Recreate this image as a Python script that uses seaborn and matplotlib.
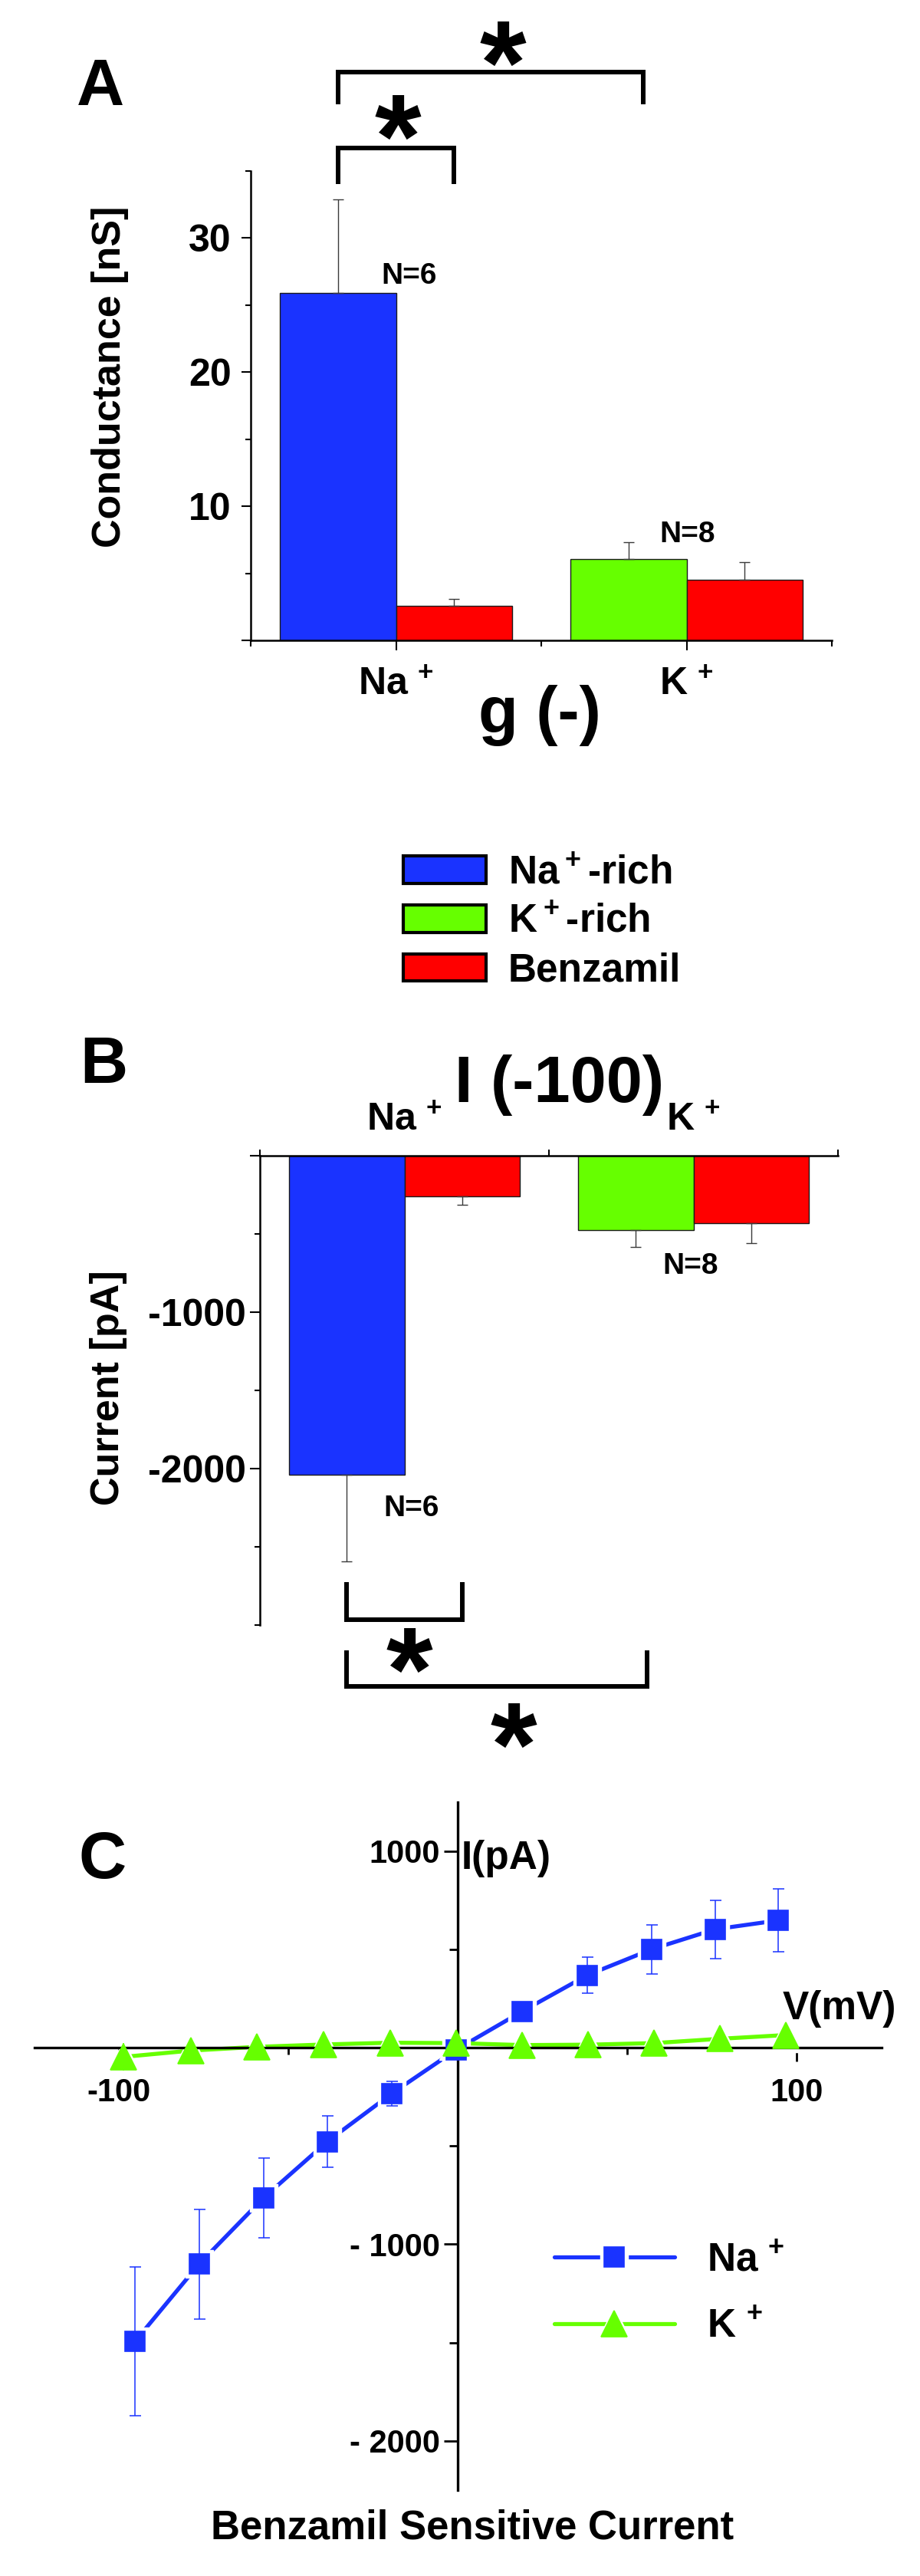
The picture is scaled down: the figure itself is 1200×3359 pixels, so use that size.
import numpy as np
import pandas as pd
import seaborn as sns
import matplotlib.pyplot as plt
from matplotlib.patches import Patch
from matplotlib.textpath import TextPath
from matplotlib.font_manager import FontProperties

# values
IONS = [r"Na$^{\,+}$", r"K$^{\,+}$"]
TREATMENTS = ["rich", "Benzamil"]
LEGEND_LABELS = ["Na$^+$-rich", "K$^+$-rich", "Benzamil"]
N_LABELS = ["N=6", "N=8"]

# A: conductance g(-) [nS]
G_RICH = [25.9, 6.06]
G_RICH_SEM = [7.0, 1.28]
G_BENZ = [2.57, 4.53]
G_BENZ_SEM = [0.52, 1.28]

# B: current at -100 mV [pA]
I_RICH = [-2039, -475]
I_RICH_SEM = [554, 106]
I_BENZ = [-261, -430]
I_BENZ_SEM = [55, 127]

# C: benzamil sensitive I-V curves
V_NA = [-95.2, -76.3, -57.3, -38.5, -19.5, -0.4, 19.1, 38.2, 57.2, 76.0, 94.6]
I_NA = [-1493, -1100, -764, -478, -234, -10, 185, 368, 500, 602, 647]
I_NA_SEM = [378, 279, 203, 130, 62, 30, 40, 92, 126, 148, 160]
V_K = [-98.6, -78.7, -59.2, -39.5, -19.9, -0.4, 19.1, 38.5, 58.0, 77.4, 96.8]
I_K = [-47, -15, 4, 16, 25, 23, 13, 15, 23, 45, 64]
I_K_SEM = [70, 60, 50, 50, 45, 40, 40, 45, 50, 55, 60]

BLUE = "#1a33ff"
GREEN = "#66ff00"
RED = "#ff0000"
RICH_COLORS = [BLUE, GREEN]

plt.rcParams.update({
    "font.family": ["Liberation Sans", "DejaVu Sans"],
    "font.weight": "bold",
    "axes.labelweight": "bold",
    "axes.titleweight": "bold",
    "mathtext.default": "regular",
    "axes.linewidth": 1.8,
})

W, H = 1200, 3359
fig = plt.figure(figsize=(W / 100, H / 100), dpi=100)

# size the asterisk from its glyph box so that the ink is ~58 px tall
_star = TextPath((0, 0), "*", size=1,
                 prop=FontProperties(family="Liberation Sans", weight="bold"))
_bb = _star.get_extents()
STAR_PT = 58 / _bb.height * 0.72
STAR_DY = -(_bb.y0 + _bb.y1) / 2 * STAR_PT


def px_box(left, top, right, bottom):
    return [left / W, 1 - bottom / H, (right - left) / W, (bottom - top) / H]


def draw_bars(ax, rich, rich_sem, benz, benz_sem, down):
    df = pd.DataFrame({
        "ion": IONS + IONS,
        "treatment": np.repeat(TREATMENTS, len(IONS)),
        "value": rich + benz,
    })
    sns.barplot(data=df, x="ion", y="value", hue="treatment", order=IONS,
                hue_order=TREATMENTS, palette=[BLUE, RED], saturation=1,
                width=0.8, errorbar=None, edgecolor="#1a1a1a", linewidth=1.0,
                legend=False, ax=ax)
    for bar, color in zip(ax.containers[0], RICH_COLORS):
        bar.set_facecolor(color)
    for cont, sem in zip(ax.containers, [rich_sem, benz_sem]):
        xs = [b.get_x() + b.get_width() / 2 for b in cont]
        ys = [b.get_y() + b.get_height() for b in cont]
        zero = np.zeros(len(sem))
        yerr = [sem, zero] if down else [zero, sem]
        ax.errorbar(xs, ys, yerr=yerr, fmt="none", ecolor="#3a3a3a",
                    elinewidth=1.0, capsize=4.7, capthick=1.0)
    ax.set_xlabel("")
    ax.set_ylabel("")


def bracket(ax, x0, x1, y_bar, y_tip):
    ax.plot([x0, x0, x1, x1], [y_tip, y_bar, y_bar, y_tip], color="black",
            lw=4.3, clip_on=False, solid_joinstyle="miter",
            solid_capstyle="butt")


def star(ax, x, y):
    ax.annotate("*", xy=(x, y), xytext=(0, STAR_DY),
                textcoords="offset points", ha="center", va="baseline",
                fontsize=STAR_PT, annotation_clip=False)


# ---------------- A ----------------
ax_a = fig.add_axes(px_box(327, 223, 1085, 835))
draw_bars(ax_a, G_RICH, G_RICH_SEM, G_BENZ, G_BENZ_SEM, down=False)
ax_a.set_xlim(-0.5, 1.5)
ax_a.set_ylim(0, 35)
ax_a.set_yticks([0, 10, 20, 30], ["", "10", "20", "30"])
ax_a.set_yticks([5, 15, 25, 35], minor=True)
ax_a.set_xticks([0, 1], IONS)
ax_a.set_xticks([-0.5, 0.5, 1.5], minor=True)
ax_a.tick_params(axis="both", which="both", width=1.5, labelsize=36)
ax_a.tick_params(axis="y", which="major", length=9, pad=9.4)
ax_a.tick_params(axis="y", which="minor", length=4.7)
ax_a.tick_params(axis="x", which="major", length=9.4, pad=16)
ax_a.tick_params(axis="x", which="minor", length=5.8)
sns.despine(ax=ax_a)
ax_a.set_ylabel("Conductance [nS]", fontsize=37.5, va="center")
ax_a.yaxis.set_label_coords(-0.2427, 0.5621)
ax_a.set_xlabel("g (-)", fontsize=61, va="baseline")
ax_a.xaxis.set_label_coords(0.497, -0.196)
ax_a.text(0.046, 26.6, N_LABELS[0], fontsize=28, ha="center", va="baseline")
ax_a.text(1.003, 7.3, N_LABELS[1], fontsize=28, ha="center", va="baseline")
bracket(ax_a, -0.2, 0.2, 36.7, 34.0)
bracket(ax_a, -0.2, 0.85, 42.4, 40.0)
star(ax_a, 0.007, 39.05)
star(ax_a, 0.368, 44.54)

# ---------------- legend ----------------
handles = [Patch(facecolor=c, edgecolor="black", lw=3, joinstyle="round")
           for c in [BLUE, GREEN, RED]]
fig.legend(handles, LEGEND_LABELS, loc="upper left",
           bbox_to_anchor=(526 / W, 1 - 1114 / H), frameon=False,
           fontsize=37, handlelength=2.1, handleheight=0.68,
           handletextpad=0.56, labelspacing=0.29, borderpad=0,
           borderaxespad=0)

# ---------------- B ----------------
ax_b = fig.add_axes(px_box(339, 1507, 1093, 2119))
draw_bars(ax_b, I_RICH, I_RICH_SEM, I_BENZ, I_BENZ_SEM, down=True)
ax_b.set_xlim(-0.5, 1.5)
ax_b.set_ylim(-3000, 0)
ax_b.xaxis.tick_top()
ax_b.spines[["bottom", "right"]].set_visible(False)
ax_b.set_xticks([0, 1], IONS)
ax_b.set_xticks([-0.5, 0.5, 1.5], minor=True)
ax_b.set_yticks([0, -1000, -2000], ["", "-1000", "-2000"])
ax_b.set_yticks([-500, -1500, -2500, -3000], minor=True)
ax_b.tick_params(axis="both", which="both", width=1.5, labelsize=36)
ax_b.tick_params(axis="x", which="major", length=0, pad=16)
ax_b.tick_params(axis="x", which="minor", length=5.8)
ax_b.tick_params(axis="y", which="major", length=9.4, pad=4)
ax_b.tick_params(axis="y", which="minor", length=5)
ax_b.set_ylabel("Current [pA]", fontsize=37.5, va="center")
ax_b.yaxis.set_label_coords(-0.2613, 0.5049)
ax_b.set_title("I (-100)", fontsize=61, x=0.5186, y=1.1144, pad=0)
ax_b.text(0.024, -2304, N_LABELS[0], fontsize=28, ha="center", va="baseline")
ax_b.text(0.991, -755, N_LABELS[1], fontsize=28, ha="center", va="baseline")
bracket(ax_b, -0.2, 0.2, -2966, -2726)
bracket(ax_b, -0.2, 0.84, -3392, -3160)
star(ax_b, 0.017, -3162)
star(ax_b, 0.378, -3642)

# ---------------- C ----------------
ax_c = fig.add_axes(px_box(44.5, 2349.5, 1149.5, 3247))
ax_c.set_xlim(-125, 125)
ax_c.set_ylim(-2250, 1250)
for side in ["left", "bottom"]:
    ax_c.spines[side].set_position(("data", 0))
    ax_c.spines[side].set_linewidth(2.4)
ax_c.spines[["top", "right"]].set_visible(False)
ax_c.set_xticks([-100, 100], ["-100", "100"])
ax_c.set_xticks([-50, 50], minor=True)
ax_c.set_yticks([1000, -1000, -2000], ["1000", "- 1000", "- 2000"])
ax_c.set_yticks([500, -500, -1500], minor=True)
ax_c.tick_params(axis="both", which="both", width=2.0, labelsize=30)
ax_c.tick_params(axis="x", which="major", length=13, pad=15)
ax_c.tick_params(axis="x", which="minor", length=6.5)
ax_c.tick_params(axis="y", which="major", length=13, pad=3.6)
ax_c.tick_params(axis="y", which="minor", length=7.7)

legend_handles = []
series = [
    (V_NA, I_NA, I_NA_SEM, BLUE, "s", 18.5, 5.4),
    (V_K, I_K, I_K_SEM, GREEN, "^", 24, 0),
]
for i, (v, cur, sem, color, mk, ms, cap) in enumerate(series):
    sns.lineplot(x=v, y=cur, color=color, linewidth=3.8, sort=False, ax=ax_c,
                 zorder=2.2 + i * 0.01)
    line = ax_c.lines[-1]
    line.set_linewidth(3.8)
    line.set_solid_capstyle("round")
    halo = ax_c.plot(v, cur, ls="none", marker=mk, ms=ms + 8, color="white",
                     zorder=2.3 + i * 0.01)[0]
    ax_c.errorbar(v, cur, yerr=sem, fmt="none", ecolor=color, elinewidth=1.1,
                  capsize=cap, capthick=1.1, zorder=2.6 + i * 0.01)
    mark = ax_c.plot(v, cur, ls="none", marker=mk, ms=ms, mfc=color, mec=color,
                     mew=1.2, zorder=3 + i * 0.01)[0]
    legend_handles.append((line, halo, mark))

ax_c.set_xlabel("")
ax_c.set_ylabel("")
ax_c.legend(legend_handles, IONS, loc="upper left",
            bbox_to_anchor=(723 / W, 1 - 2923 / H),
            bbox_transform=fig.transFigure, frameon=False, fontsize=37,
            handlelength=3.05, handletextpad=0.82, labelspacing=0.74,
            borderpad=0, borderaxespad=0)
ax_c.text(0.5045, 0.9024, "I(pA)", transform=ax_c.transAxes, fontsize=37,
          ha="left", va="baseline")
ax_c.text(0.8837, 0.6841, "V(mV)", transform=ax_c.transAxes, fontsize=37,
          ha="left", va="baseline")
ax_c.text(0.5172, -0.0713, "Benzamil Sensitive Current",
          transform=ax_c.transAxes, fontsize=38, ha="center", va="baseline")

# panel letters
for letter, left, base in [("A", 100, 137), ("B", 104, 1412), ("C", 102, 2449)]:
    fig.text(left / W, 1 - base / H, letter, fontsize=62, ha="left",
             va="baseline")

fig.savefig("out.png", dpi=100)
